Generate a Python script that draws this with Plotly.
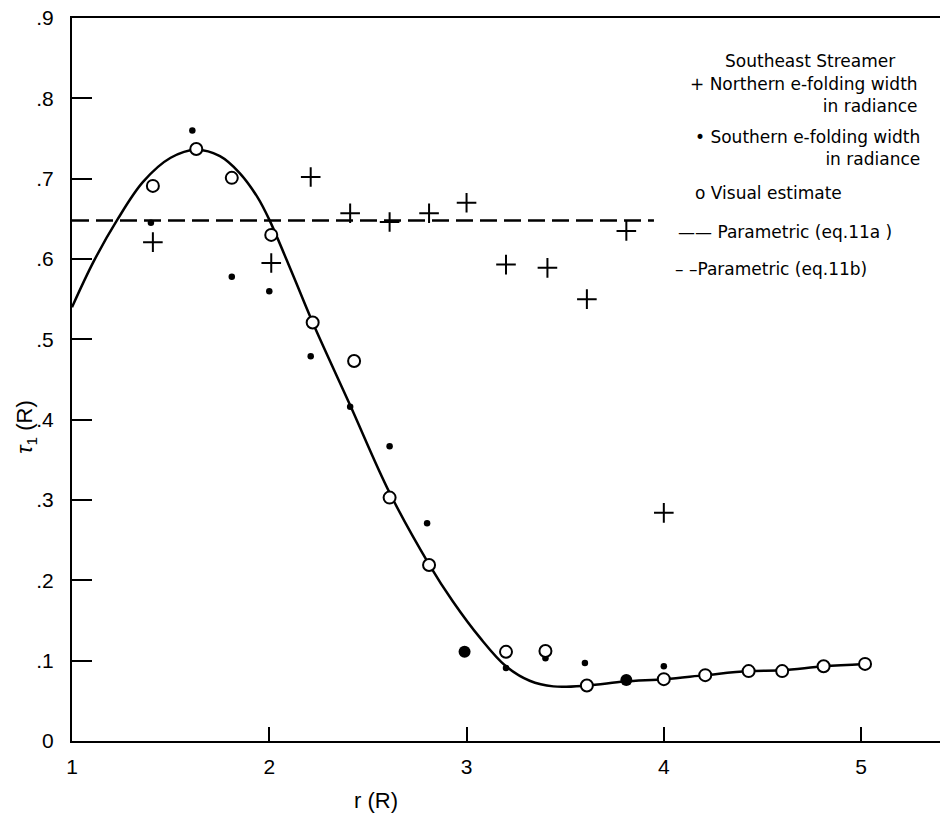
import plotly.graph_objects as go

# Southeast streamer: e-folding width tau_1 versus heliocentric distance r
north_r = [1.41, 2.01, 2.21, 2.41, 2.61, 2.81, 3.00, 3.20, 3.41, 3.61, 3.81, 4.00]
north_tau = [0.621, 0.595, 0.702, 0.657, 0.646, 0.657, 0.670, 0.593, 0.589, 0.550, 0.635, 0.284]

south_r = [1.40, 1.61, 1.81, 2.00, 2.21, 2.41, 2.61, 2.80, 3.20, 3.40, 3.60, 4.00]
south_tau = [0.645, 0.760, 0.578, 0.560, 0.479, 0.416, 0.367, 0.271, 0.091, 0.103, 0.097, 0.093]

# points where the southern width and the visual estimate coincide
coincident_r = [2.99, 3.81]
coincident_tau = [0.111, 0.076]

visual_r = [1.41, 1.63, 1.81, 2.01, 2.22, 2.43, 2.61, 2.81, 3.20, 3.40, 3.61, 4.00,
            4.21, 4.43, 4.60, 4.81, 5.02]
visual_tau = [0.691, 0.737, 0.701, 0.630, 0.521, 0.473, 0.303, 0.219, 0.111, 0.112,
              0.069, 0.077, 0.082, 0.087, 0.087, 0.093, 0.096]

# parametric fit, eq. 11a (sampled along the drawn curve)
fit_a_r = [1.00, 1.11, 1.23, 1.36, 1.50, 1.63, 1.75, 1.85, 1.94, 2.00, 2.12, 2.22,
           2.41, 2.61, 2.81, 2.93, 3.07, 3.20, 3.32, 3.44, 3.61, 3.80, 4.01,
           4.21, 4.43, 4.60, 4.81, 5.02]
fit_a_tau = [0.540, 0.597, 0.649, 0.696, 0.726, 0.736, 0.728, 0.707, 0.677, 0.649,
             0.580, 0.521, 0.418, 0.309, 0.220, 0.174, 0.128, 0.093, 0.075,
             0.068, 0.069, 0.074, 0.077, 0.082, 0.087, 0.088, 0.093, 0.096]

# parametric fit, eq. 11b (constant width)
fit_b_r = [1.00, 3.95]
fit_b_tau = [0.648, 0.648]

x_ticks = [1, 2, 3, 4, 5]
x_tick_text = ["1", "2", "3", "4", "5"]
y_ticks = [0, 0.1, 0.2, 0.3, 0.4, 0.5, 0.6, 0.7, 0.8, 0.9]
y_tick_text = ["0", ".1", ".2", ".3", ".4", ".5", ".6", ".7", ".8", ".9"]

FONT = "Liberation Sans"
KEY_FONT = "DejaVu Sans"
INK = "black"

fig = go.Figure()

fig.add_trace(go.Scatter(
    x=fit_b_r, y=fit_b_tau, mode="lines",
    line=dict(color=INK, width=2.4, dash="17px,7px"),
    name="Parametric (eq.11b)"))

fig.add_trace(go.Scatter(
    x=fit_a_r, y=fit_a_tau, mode="lines",
    line=dict(color=INK, width=2.5, shape="spline", smoothing=1.0),
    name="Parametric (eq.11a)"))

fig.add_trace(go.Scatter(
    x=north_r, y=north_tau, mode="markers",
    marker=dict(symbol="cross-thin", size=14, line=dict(color=INK, width=2)),
    name="Northern e-folding width in radiance"))

fig.add_trace(go.Scatter(
    x=south_r, y=south_tau, mode="markers",
    marker=dict(symbol="circle", size=6.5, color=INK),
    name="Southern e-folding width in radiance"))

fig.add_trace(go.Scatter(
    x=coincident_r, y=coincident_tau, mode="markers",
    marker=dict(symbol="circle", size=12, color=INK),
    name="Southern and visual"))

fig.add_trace(go.Scatter(
    x=visual_r, y=visual_tau, mode="markers",
    marker=dict(symbol="circle", size=12, color="white",
                line=dict(color=INK, width=2)),
    name="Visual estimate"))

# key, written as text in the upper right
key_font = dict(family=KEY_FONT, size=17, color=INK)
fig.add_annotation(x=4.74, y=0.847, text="Southeast Streamer",
                   xanchor="center", yanchor="middle", showarrow=False, font=key_font)
fig.add_annotation(x=5.30, y=0.804, text="+ Northern e-folding width<br>in radiance",
                   align="right", xanchor="right", yanchor="middle",
                   showarrow=False, font=key_font)
fig.add_annotation(x=5.31, y=0.7385, text="• Southern e-folding width<br>in radiance",
                   align="right", xanchor="right", yanchor="middle",
                   showarrow=False, font=key_font)
fig.add_annotation(x=4.147, y=0.682, text="o Visual estimate",
                   xanchor="left", yanchor="middle", showarrow=False, font=key_font)
fig.add_annotation(x=4.061, y=0.634, text="—— Parametric (eq.11a )",
                   xanchor="left", yanchor="middle", showarrow=False, font=key_font)
fig.add_annotation(x=4.046, y=0.587, text="– –Parametric (eq.11b)",
                   xanchor="left", yanchor="middle", showarrow=False, font=key_font)

# axis titles
fig.add_annotation(x=2.54, y=0, yref="y", yshift=-59, text="r (R)",
                   xanchor="center", yanchor="middle", showarrow=False,
                   font=dict(family=FONT, size=22, color=INK))
fig.add_annotation(x=1, y=0.39, xshift=-46, text="<i>τ</i><sub>1</sub> (R)",
                   textangle=-90, xanchor="center", yanchor="middle",
                   showarrow=False, font=dict(family=FONT, size=22, color=INK))

fig.update_layout(
    width=940, height=821,
    margin=dict(l=72, r=0, t=18, b=80),
    paper_bgcolor="white", plot_bgcolor="white",
    showlegend=False,
    font=dict(family=FONT, size=21, color=INK),
)

fig.update_xaxes(
    range=[1, 5.4], showgrid=False, zeroline=False,
    showline=True, linecolor=INK, linewidth=2, mirror=True,
    ticks="inside", ticklen=14, tickwidth=2, tickcolor=INK,
    tickvals=x_ticks, ticktext=x_tick_text, ticklabelstandoff=6,
    tickfont=dict(family=FONT, size=21, color=INK),
)
fig.update_yaxes(
    range=[0, 0.9], showgrid=False, zeroline=False,
    showline=True, linecolor=INK, linewidth=2,
    ticks="inside", ticklen=20, tickwidth=2, tickcolor=INK,
    tickvals=y_ticks, ticktext=y_tick_text, ticklabelstandoff=12,
    tickfont=dict(family=FONT, size=21, color=INK),
)

fig.write_html("out.html")
